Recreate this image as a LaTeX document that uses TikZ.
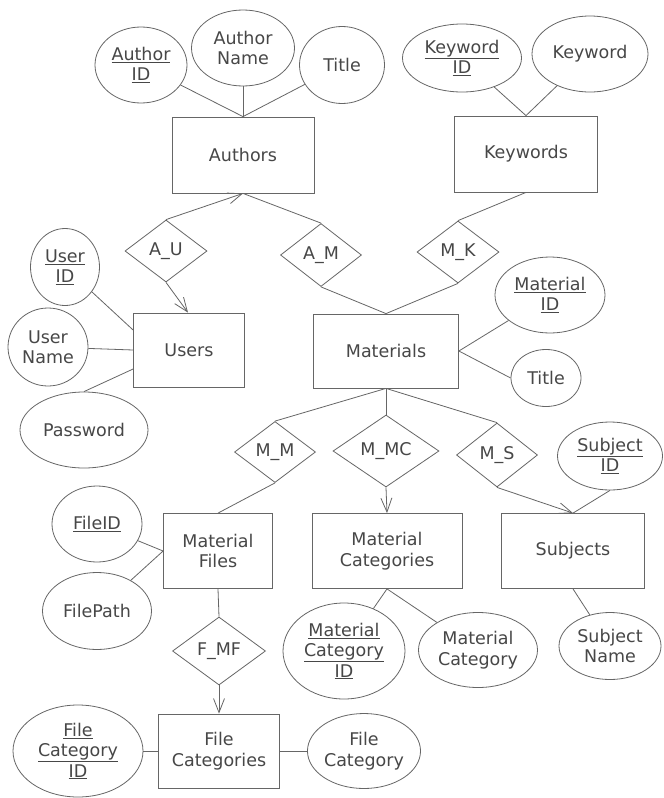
\documentclass[tikz,border=0pt]{standalone}
\usepackage{fontspec}
\setmainfont{DejaVu Sans}
\usetikzlibrary{shapes.geometric,arrows.meta}
\begin{document}
\begin{tikzpicture}[x=1pt,y=-1pt,
  every node/.style={text=black!72,font=\fontsize{17.5}{20.5}\selectfont,inner sep=0pt,align=center},
  ent/.style={draw=black!60,line width=0.8pt,rectangle},
  attr/.style={draw=black!60,line width=0.8pt,ellipse},
  rel/.style={draw=black!60,line width=0.8pt,diamond},
  conn/.style={draw=black!60,line width=0.8pt},
  arr/.style={conn,-{Straight Barb[length=14pt,width=11pt]}}]
\fill[white] (0,0) rectangle (664,798);
\useasboundingbox (0,0) rectangle (664,798);
% entities
\node[ent,minimum width=142pt,minimum height=76pt] (authors) at (243,155) {Authors};
\node[ent,minimum width=143pt,minimum height=76pt] (keywords) at (526,154) {Keywords};
\node[ent,minimum width=111pt,minimum height=74pt] (users) at (189,350) {Users};
\node[ent,minimum width=145pt,minimum height=74pt] (materials) at (386,351) {Materials};
\node[ent,minimum width=109pt,minimum height=75pt] (mfiles) at (218,551) {Material\\Files};
\node[ent,minimum width=150pt,minimum height=75pt] (mcats) at (387,551) {Material\\Categories};
\node[ent,minimum width=143pt,minimum height=75pt] (subjects) at (573,551) {Subjects};
\node[ent,minimum width=121pt,minimum height=74pt] (fcats) at (219,751) {File\\Categories};
% attributes
\node[attr,minimum width=92pt,minimum height=76pt] (aid) at (141,65) {\underline{Author}\\\underline{ID}};
\node[attr,minimum width=103pt,minimum height=76pt] (aname) at (243,48) {Author\\Name};
\node[attr,minimum width=85pt,minimum height=77pt] (atitle) at (342,65) {Title};
\node[attr,minimum width=119pt,minimum height=68pt] (kid) at (462,58) {\underline{Keyword}\\\underline{ID}};
\node[attr,minimum width=116pt,minimum height=76pt] (kw) at (590,54) {Keyword};
\node[attr,minimum width=69pt,minimum height=77pt] (uid) at (65,267) {\underline{User}\\\underline{ID}};
\node[attr,minimum width=80pt,minimum height=78pt] (uname) at (48,347) {User\\Name};
\node[attr,minimum width=128pt,minimum height=76pt] (pw) at (84,430) {Password};
\node[attr,minimum width=110pt,minimum height=76pt] (mid) at (550,295) {\underline{Material}\\\underline{ID}};
\node[attr,minimum width=70pt,minimum height=57pt] (mtitle) at (546,378) {Title};
\node[attr,minimum width=105pt,minimum height=68pt] (sid) at (610,456) {\underline{Subject}\\\underline{ID}};
\node[attr,minimum width=90pt,minimum height=76pt] (fid) at (97,524) {\underline{FileID}};
\node[attr,minimum width=109pt,minimum height=77pt] (fpath) at (97,611) {FilePath};
\node[attr,minimum width=122pt,minimum height=96pt] (mcid) at (344,651) {\underline{Material}\\\underline{Category}\\\underline{ID}};
\node[attr,minimum width=119pt,minimum height=75pt] (mcat) at (478,650) {Material\\Category};
\node[attr,minimum width=102pt,minimum height=67pt] (sname) at (610,646) {Subject\\Name};
\node[attr,minimum width=130pt,minimum height=92pt] (fcid) at (78,751) {\underline{File}\\\underline{Category}\\\underline{ID}};
\node[attr,minimum width=112pt,minimum height=75pt] (fcat) at (364,751) {File\\Category};
% relationships
\node[rel,minimum width=82pt,minimum height=62pt] (au) at (166,251) {A\_U};
\node[rel,minimum width=81pt,minimum height=63pt] (am) at (321,255) {A\_M};
\node[rel,minimum width=82pt,minimum height=62pt] (mk) at (458,252) {M\_K};
\node[rel,minimum width=81pt,minimum height=61pt] (mm) at (275,452) {M\_M};
\node[rel,minimum width=106pt,minimum height=72pt] (mmc) at (386,451) {M\_MC};
\node[rel,minimum width=81pt,minimum height=64pt] (ms) at (497,455) {M\_S};
\node[rel,minimum width=93pt,minimum height=68pt] (fmf) at (219,651) {F\_MF};
% connectors
\draw[conn] (aid) -- (authors.north);
\draw[conn] (aname) -- (authors.north);
\draw[conn] (atitle) -- (authors.north);
\draw[conn] (kid) -- (keywords.north);
\draw[conn] (kw) -- (keywords.north);
\draw[arr] (au.north) -- (authors.south);
\draw[conn] (am.north) -- (authors.south);
\draw[arr] (au.south) -- ([xshift=-1pt]users.north);
\draw[conn] (am.south) -- (materials.north);
\draw[conn] (mk.south) -- (materials.north);
\draw[conn] (keywords.south) -- (mk.north);
\draw[conn] (uid) -- ([yshift=20pt]users.west);
\draw[conn] (uname) -- (users.west);
\draw[conn] (pw.north) -- ([yshift=-19pt]users.west);
\draw[conn] (materials.east) -- (mid);
\draw[conn] (materials.east) -- (mtitle.west);
\draw[conn] (materials.south) -- (mm.north);
\draw[conn] (materials.south) -- (mmc.north);
\draw[conn] (materials.south) -- (ms.north);
\draw[conn] (mm.south) -- (mfiles.north);
\draw[arr] (mmc.south) -- (mcats.north);
\draw[arr] (ms.south) -- (subjects.north);
\draw[conn] (sid.south) -- (subjects.north);
\draw[conn] (fid) -- (mfiles.west);
\draw[conn] (fpath) -- (mfiles.west);
\draw[conn] (mfiles.south) -- (fmf.north);
\draw[arr] (fmf.south) -- (fcats.north);
\draw[conn] (fcid) -- (fcats.west);
\draw[conn] (fcats.east) -- (fcat);
\draw[conn] (mcats.south) -- (mcid);
\draw[conn] (mcats.south) -- (mcat);
\draw[conn] (subjects.south) -- (sname);
\end{tikzpicture}
\end{document}
